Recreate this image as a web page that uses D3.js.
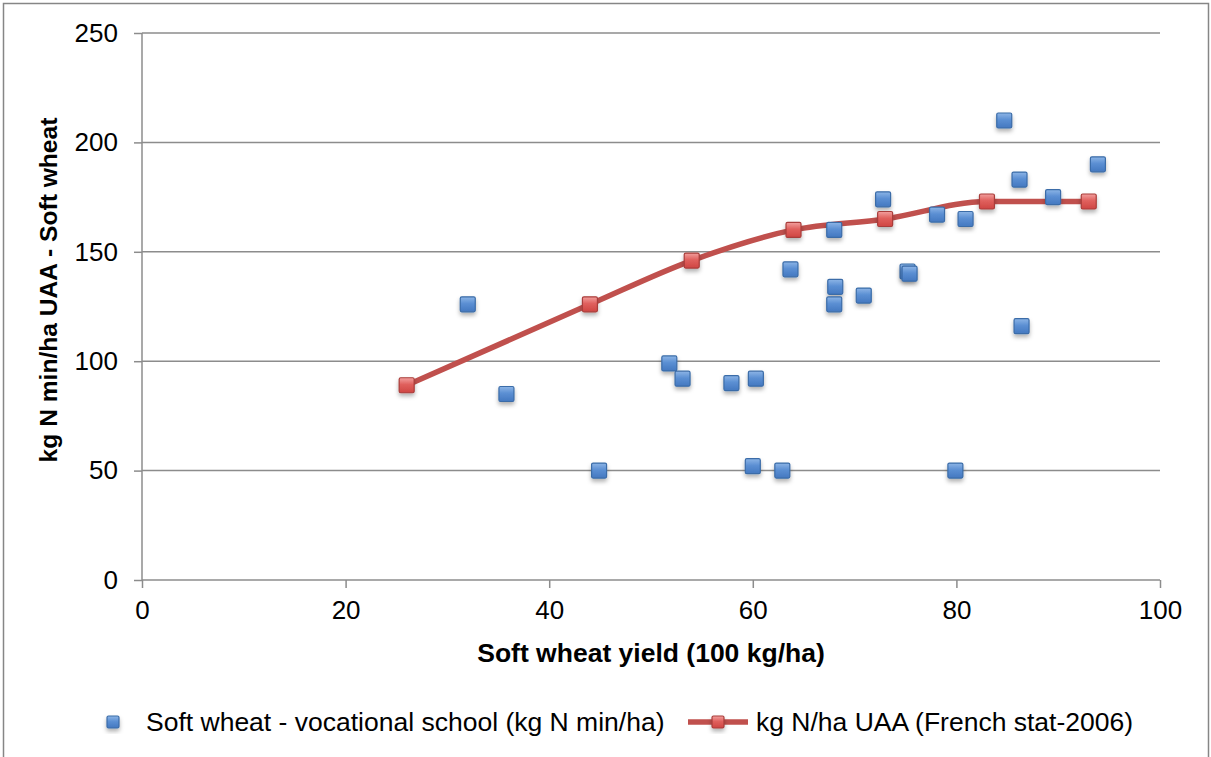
<!DOCTYPE html>
<html><head><meta charset="utf-8">
<script src="https://cdn.jsdelivr.net/npm/d3@7"></script>
<style>body{margin:0;background:#fff;} svg{display:block;font-family:"Liberation Sans",Arial,sans-serif;}</style>
</head><body>
<svg id="c" width="1211" height="757"></svg>
<script>
// Data
const schoolX = [32.0, 35.8, 44.9, 51.8, 53.1, 57.9, 60.3, 60.0, 62.9, 63.7, 68.0, 68.1, 68.0, 70.9, 72.8, 75.2, 75.4, 78.1, 80.9, 79.9, 84.7, 86.2, 86.4, 89.5, 93.9];
const schoolY = [126, 85, 50, 99, 92, 90, 92, 52, 50, 142, 160, 134, 126, 130, 174, 141, 140, 167, 165, 50, 210, 183, 116, 175, 190];
const statX = [26, 44, 54, 64, 73, 83, 93];
const statY = [89, 126, 146, 160, 165, 173, 173];
const xTicks = [0, 20, 40, 60, 80, 100];
const yTicks = [0, 50, 100, 150, 200, 250];
const seriesNames = ["Soft wheat - vocational school (kg N min/ha)", "kg N/ha UAA (French stat-2006)"];
const xTitle = "Soft wheat yield (100 kg/ha)";
const yTitle = "kg N min/ha UAA - Soft wheat";

const svg = d3.select("#c");
const defs = svg.append("defs");
const gb = defs.append("linearGradient").attr("id","gb").attr("x1",0).attr("y1",0).attr("x2",0).attr("y2",1);
gb.append("stop").attr("offset","0%").attr("stop-color","#8DB5E6");
gb.append("stop").attr("offset","45%").attr("stop-color","#5B8FD3");
gb.append("stop").attr("offset","100%").attr("stop-color","#4478C0");
const gr = defs.append("linearGradient").attr("id","gr").attr("x1",0).attr("y1",0).attr("x2",0).attr("y2",1);
gr.append("stop").attr("offset","0%").attr("stop-color","#F2A09E");
gr.append("stop").attr("offset","45%").attr("stop-color","#E0605D");
gr.append("stop").attr("offset","100%").attr("stop-color","#CF4643");
const f = defs.append("filter").attr("id","sh").attr("x","-50%").attr("y","-50%").attr("width","200%").attr("height","200%");
f.append("feDropShadow").attr("dx",0).attr("dy",3).attr("stdDeviation",2).attr("flood-color","#000").attr("flood-opacity",0.3);

// border
svg.append("rect").attr("x",3.5).attr("y",3.5).attr("width",1205).attr("height",760)
  .attr("fill","none").attr("stroke","#868686").attr("stroke-width",1.5);

const x = d3.scaleLinear().domain([0,100]).range([142,1160]);
const y = d3.scaleLinear().domain([0,250]).range([580,33]);
const grey = "#8C8C8C";

// gridlines
svg.append("g").selectAll("line").data(yTicks.filter(d=>d>0)).join("line")
  .attr("x1",x(0)).attr("x2",x(100)).attr("y1",d=>y(d)).attr("y2",d=>y(d))
  .attr("stroke",grey).attr("stroke-width",1.5);

// axes
const xa = svg.append("g").attr("transform",`translate(0,${y(0)})`)
  .call(d3.axisBottom(x).tickValues(xTicks).tickSize(8).tickPadding(13));
const ya = svg.append("g").attr("transform",`translate(${x(0)},0)`)
  .call(d3.axisLeft(y).tickValues(yTicks).tickSize(8).tickPadding(16));
[xa,ya].forEach(a=>{
  a.select(".domain").attr("stroke",grey).attr("stroke-width",1.5);
  a.selectAll(".tick line").attr("stroke",grey).attr("stroke-width",1.5);
  a.selectAll(".tick text").attr("font-size",26).attr("fill","#000").attr("font-family","Liberation Sans, Arial, sans-serif");
});
xa.select(".domain").attr("d",`M${x(0)},0H${x(100)}`);
ya.select(".domain").attr("d",`M0,${y(250)}V${y(0)}`);

// titles
svg.append("text").attr("x",651).attr("y",662).attr("text-anchor","middle")
  .attr("font-size",26.5).attr("font-weight","bold").text(xTitle);
svg.append("text").attr("transform","translate(57,290) rotate(-90)").attr("text-anchor","middle")
  .attr("font-size",24.6).attr("font-weight","bold").text(yTitle);

// line series
const statData = statX.map((v,i)=>({x:v,y:statY[i]}));
const line = d3.line().x(d=>x(d.x)).y(d=>y(d.y)).curve(d3.curveMonotoneX);
svg.append("path").datum(statData).attr("d",line).attr("fill","none")
  .attr("stroke","#C0504D").attr("stroke-width",5.5).attr("stroke-linejoin","round");

const ms = 15;
function marker(g, cx, cy, fill, stroke, s){
  g.append("rect").attr("x",cx-s/2).attr("y",cy-s/2).attr("width",s).attr("height",s)
    .attr("rx",1.5).attr("fill",fill).attr("stroke",stroke).attr("stroke-width",1.2).attr("filter","url(#sh)");
}
const schoolData = schoolX.map((v,i)=>({x:v,y:schoolY[i]}));
const gS = svg.append("g");
schoolData.forEach(d=>marker(gS, x(d.x), y(d.y), "url(#gb)", "#3B6CA8", ms));
const gR = svg.append("g");
statData.forEach(d=>marker(gR, x(d.x), y(d.y), "url(#gr)", "#A93D3A", ms));

// legend
const ly = 722;
marker(svg, 113, ly, "url(#gb)", "#3B6CA8", 12);
svg.append("text").attr("x",146).attr("y",ly+9).attr("font-size",26.5).text(seriesNames[0]);
svg.append("line").attr("x1",688).attr("x2",748).attr("y1",ly).attr("y2",ly)
  .attr("stroke","#C0504D").attr("stroke-width",5.5);
marker(svg, 718, ly, "url(#gr)", "#A93D3A", 12);
svg.append("text").attr("x",756).attr("y",ly+9).attr("font-size",26.5).text(seriesNames[1]);
</script>
</body></html>
